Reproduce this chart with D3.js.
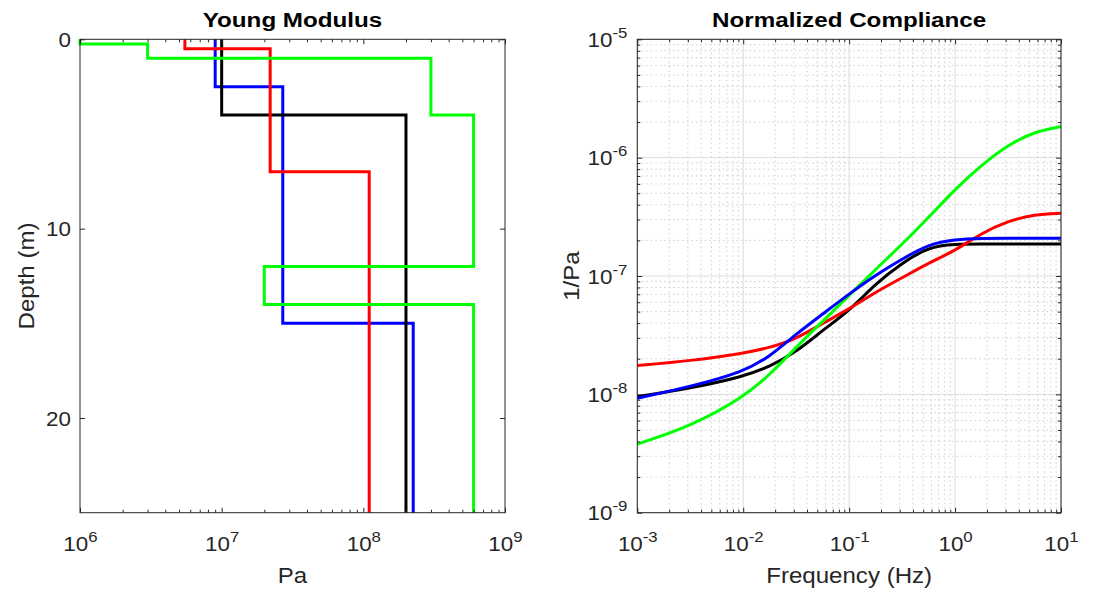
<!DOCTYPE html>
<html>
<head>
<meta charset="utf-8">
<script src="https://cdn.jsdelivr.net/npm/d3@7"></script>
<style>
  body { margin: 0; background: #fff; }
  svg { display: block; font-family: "Liberation Sans", Arial, Helvetica, sans-serif; }
</style>
</head>
<body>
<div id="chart"></div>
<script>
// ---- data: layered modulus profiles (depth breaks in m, modulus in Pa) ----
const blackDepths = [0, 4, 25];
const blackModulus = [1e7, 2e8];
const redDepths = [0, 0.5, 7, 25];
const redModulus = [5.5e6, 2.2e7, 1.1e8];
const blueDepths = [0, 2.5, 15, 25];
const blueModulus = [9e6, 2.7e7, 2.25e8];
const greenDepths = [0, 0.25, 1, 4, 12, 14, 25];
const greenModulus = [1e6, 3e6, 3e8, 6e8, 2e7, 6e8];

// ---- data: normalized compliance vs frequency ----
const freqs = [0.001, 0.00316, 0.01, 0.0178, 0.0316, 0.0562, 0.1, 0.178, 0.316, 0.562, 1, 1.78, 3.16, 5.62, 10];
const blackCompliance = [9.55e-9, 1.125e-8, 1.41e-8, 1.71e-8, 2.28e-8, 3.48e-8, 5.06e-8, 8.64e-8, 1.29e-7, 1.76e-7, 1.86e-7, 1.86e-7, 1.86e-7, 1.86e-7, 1.86e-7];
const redCompliance = [1.75e-8, 1.92e-8, 2.22e-8, 2.48e-8, 2.94e-8, 3.98e-8, 5.26e-8, 7.33e-8, 9.62e-8, 1.29e-7, 1.63e-7, 2.31e-7, 2.92e-7, 3.32e-7, 3.39e-7];
const blueCompliance = [9.27e-9, 1.16e-8, 1.55e-8, 2.08e-8, 3.24e-8, 4.77e-8, 7.05e-8, 1.02e-7, 1.39e-7, 1.86e-7, 2.04e-7, 2.08e-7, 2.08e-7, 2.08e-7, 2.08e-7];
const greenCompliance = [3.80e-9, 5.33e-9, 9.44e-9, 1.46e-8, 2.51e-8, 4.14e-8, 6.85e-8, 1.14e-7, 1.85e-7, 3.12e-7, 5.41e-7, 8.67e-7, 1.28e-6, 1.66e-6, 1.83e-6];

const leftXTicks = [1e6, 1e7, 1e8, 1e9];
const leftYTicks = [0, 10, 20];
const rightXTicks = [1e-3, 1e-2, 1e-1, 1e0, 1e1];
const rightYTicks = [1e-9, 1e-8, 1e-7, 1e-6, 1e-5];

const width = 1096, height = 592;
const axisColor = '#262626';
const tickFont = 20, expFont = 15, labelFont = 22.5, titleFont = 20;
const tickStretch = 1.12, labelStretch = 1.07, titleStretch = 1.21;

const svg = d3.select('#chart').append('svg')
  .attr('width', width)
  .attr('height', height);

const plotTop = 39.3, plotBottom = 512.7;
const left1 = { x0: 80, x1: 505 };
const left2 = { x0: 637.3, x1: 1061 };

const xE = d3.scaleLog().domain([1e6, 1e9]).range([left1.x0, left1.x1]);
const yD = d3.scaleLinear().domain([0, 25]).range([plotTop, plotBottom]);
const xF = d3.scaleLog().domain([1e-3, 1e1]).range([left2.x0, left2.x1]);
const yC = d3.scaleLog().domain([1e-9, 1e-5]).range([plotBottom, plotTop]);

// minor ticks 2..9 in every decade of a log domain
function minorTicks(scale) {
  let out = [];
  let [a, b] = scale.domain();
  for (let e = Math.round(Math.log10(a)); e < Math.round(Math.log10(b)); e++) {
    for (let m = 2; m <= 9; m++) out.push(m * Math.pow(10, e));
  }
  return out;
}

function powLabel(sel, v) {
  let e = Math.round(Math.log10(v));
  sel.text(null);
  sel.append('tspan').text('10');
  sel.append('tspan')
    .attr('dy', -9)
    .style('font-size', expFont + 'px')
    .text(e);
}

function styleAxis(g) {
  g.select('.domain').remove();
  g.selectAll('.tick line').attr('stroke', axisColor).attr('stroke-width', 1);
  g.selectAll('.tick text').attr('fill', axisColor).style('font-size', tickFont + 'px');
}

// --- ticks for a panel, drawn with d3 axes, pointing inward on all four sides ---
function drawTicks(xs, ys, xMajor, yMajor, xMinor, yMinor, yPow) {
  let major = 5, minor = 3;
  let gx = svg.append('g').attr('transform', `translate(0,${plotBottom})`)
    .call(d3.axisBottom(xs).tickValues(xMajor).tickSizeInner(-major).tickSizeOuter(0));
  styleAxis(gx);
  gx.selectAll('.tick text').each(function(d) {
    d3.select(this).call(powLabel, d);
  })
    .attr('y', 38).attr('dy', 0)
    .attr('transform', `scale(${tickStretch},1)`);

  let gxt = svg.append('g').attr('transform', `translate(0,${plotTop})`)
    .call(d3.axisTop(xs).tickValues(xMajor).tickSizeInner(-major).tickSizeOuter(0).tickFormat(''));
  styleAxis(gxt);

  if (xMinor) {
    [[plotBottom, d3.axisBottom], [plotTop, d3.axisTop]].forEach(([yy, ax]) => {
      let g = svg.append('g').attr('transform', `translate(0,${yy})`)
        .call(ax(xs).tickValues(xMinor).tickSizeInner(-minor).tickSizeOuter(0).tickFormat(''));
      styleAxis(g);
    });
  }

  let gy = svg.append('g').attr('transform', `translate(${xs.range()[0]},0)`)
    .call(d3.axisLeft(ys).tickValues(yMajor).tickSizeInner(-major).tickSizeOuter(0));
  styleAxis(gy);
  gy.selectAll('.tick text').each(function(d) {
    if (yPow) d3.select(this).call(powLabel, d);
  })
    .attr('x', -(yPow ? 10 : 9) / tickStretch)
    .attr('dy', '0.36em')
    .attr('transform', `scale(${tickStretch},1)`);

  let gyr = svg.append('g').attr('transform', `translate(${xs.range()[1]},0)`)
    .call(d3.axisRight(ys).tickValues(yMajor).tickSizeInner(-major).tickSizeOuter(0).tickFormat(''));
  styleAxis(gyr);

  if (yMinor) {
    [[xs.range()[0], d3.axisLeft], [xs.range()[1], d3.axisRight]].forEach(([xx, ax]) => {
      let g = svg.append('g').attr('transform', `translate(${xx},0)`)
        .call(ax(ys).tickValues(yMinor).tickSizeInner(-minor).tickSizeOuter(0).tickFormat(''));
      styleAxis(g);
    });
  }

  // box
  svg.append('rect')
    .attr('x', xs.range()[0]).attr('y', plotTop)
    .attr('width', xs.range()[1] - xs.range()[0]).attr('height', plotBottom - plotTop)
    .attr('fill', 'none').attr('stroke', axisColor).attr('stroke-width', 1);
}

// ****************** Grid (right panel) ***************************
let grid = svg.append('g');
let fMinor = minorTicks(xF), cMinor = minorTicks(yC);
grid.selectAll('line.vminor').data(fMinor).enter().append('line')
  .attr('x1', d => xF(d)).attr('x2', d => xF(d)).attr('y1', plotTop).attr('y2', plotBottom)
  .attr('stroke', '#cdcdcd').attr('stroke-dasharray', '1.5,3');
grid.selectAll('line.hminor').data(cMinor).enter().append('line')
  .attr('y1', d => yC(d)).attr('y2', d => yC(d)).attr('x1', left2.x0).attr('x2', left2.x1)
  .attr('stroke', '#cdcdcd').attr('stroke-dasharray', '1.5,3');
grid.selectAll('line.vmajor').data(rightXTicks).enter().append('line')
  .attr('x1', d => xF(d)).attr('x2', d => xF(d)).attr('y1', plotTop).attr('y2', plotBottom)
  .attr('stroke', '#dcdcdc');
grid.selectAll('line.hmajor').data(rightYTicks).enter().append('line')
  .attr('y1', d => yC(d)).attr('y2', d => yC(d)).attr('x1', left2.x0).attr('x2', left2.x1)
  .attr('stroke', '#dcdcdc');

// ****************** Profiles (left panel) ***************************
function stepPoints(depths, mods) {
  let pts = [];
  mods.forEach((m, i) => {
    pts.push([m, depths[i]]);
    pts.push([m, depths[i + 1]]);
  });
  return pts;
}

let profiles = [
  { c: '#0000ff', d: blueDepths, m: blueModulus },
  { c: '#000000', d: blackDepths, m: blackModulus },
  { c: '#ff0000', d: redDepths, m: redModulus },
  { c: '#00ff00', d: greenDepths, m: greenModulus }
];
let stepLine = d3.line().x(p => xE(p[0])).y(p => yD(p[1]));
svg.selectAll('path.profile').data(profiles).enter().append('path')
  .attr('class', 'profile')
  .attr('d', p => stepLine(stepPoints(p.d, p.m)))
  .attr('fill', 'none')
  .attr('stroke', p => p.c)
  .attr('stroke-width', 3)
  .attr('stroke-linejoin', 'miter');

// ****************** Compliance (right panel) ***************************
let curves = [
  { c: '#000000', v: blackCompliance },
  { c: '#ff0000', v: redCompliance },
  { c: '#00ff00', v: greenCompliance },
  { c: '#0000ff', v: blueCompliance }
];
let cLine = d3.line()
  .x((v, i) => xF(freqs[i]))
  .y(v => yC(v))
  .curve(d3.curveBasis);
svg.selectAll('path.curve').data(curves).enter().append('path')
  .attr('class', 'curve')
  .attr('d', c => cLine(c.v))
  .attr('fill', 'none')
  .attr('stroke', c => c.c)
  .attr('stroke-width', 3);

// ****************** Axes ***************************
drawTicks(xE, yD, leftXTicks, leftYTicks, minorTicks(xE), null, false);
drawTicks(xF, yC, rightXTicks, rightYTicks, fMinor, cMinor, true);

// ****************** Titles and labels ***************************
function addText(x, y, txt, size, weight, rot, sx) {
  svg.append('text')
    .attr('text-anchor', 'middle')
    .attr('fill', weight === 'bold' ? '#000' : axisColor)
    .style('font-size', size + 'px')
    .style('font-weight', weight || 'normal')
    .attr('transform', `translate(${x},${y})` + (rot ? ' rotate(-90)' : '') + ` scale(${sx},1)`)
    .text(txt);
}
addText((left1.x0 + left1.x1) / 2, 27, 'Young Modulus', titleFont, 'bold', false, titleStretch);
addText((left2.x0 + left2.x1) / 2, 27, 'Normalized Compliance', titleFont, 'bold', false, titleStretch);
addText((left1.x0 + left1.x1) / 2, 583, 'Pa', labelFont, null, false, labelStretch);
addText((left2.x0 + left2.x1) / 2, 583, 'Frequency (Hz)', labelFont, null, false, labelStretch);
addText(34, 276, 'Depth (m)', labelFont, null, true, labelStretch);
addText(579, 276, '1/Pa', labelFont, null, true, labelStretch);
</script>
</body>
</html>
